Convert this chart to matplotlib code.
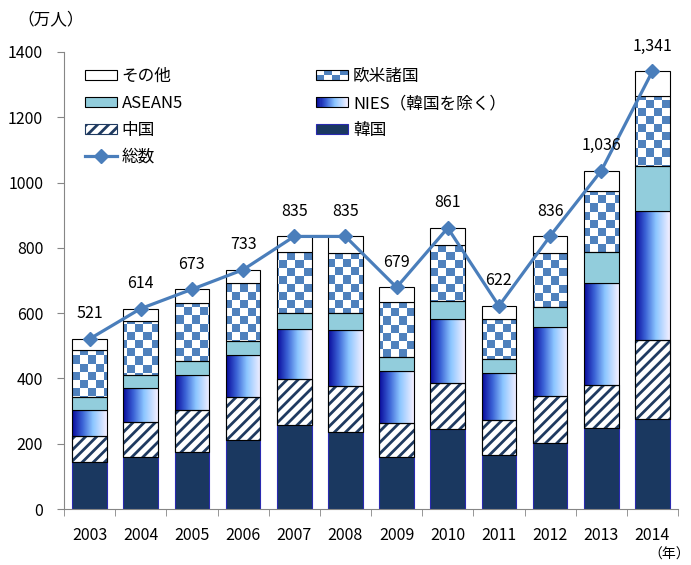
import numpy as np
import matplotlib
matplotlib.use("Agg")
import matplotlib.pyplot as plt
from matplotlib.patches import Patch, Rectangle
from matplotlib.lines import Line2D
from matplotlib.colors import LinearSegmentedColormap, ListedColormap
from matplotlib.legend_handler import HandlerBase

plt.rcParams['font.family'] = ['Noto Sans CJK JP', 'DejaVu Sans']
plt.rcParams['hatch.linewidth'] = 2.0

# data (万人)
years = ['2003', '2004', '2005', '2006', '2007', '2008',
         '2009', '2010', '2011', '2012', '2013', '2014']
korea = [145, 159, 175, 212, 258, 237, 158, 244, 165, 203, 247, 276]
china = [80, 108, 127, 131, 140, 141, 104, 141, 108, 144, 133, 242]
nies = [78, 103, 108, 128, 152, 170, 160, 196, 145, 210, 311, 396]
asean5 = [39, 40, 42, 43, 49, 51, 45, 55, 41, 63, 96, 138]
western = [144, 165, 178, 177, 189, 184, 166, 174, 123, 163, 187, 212]
others = [35, 39, 43, 42, 47, 52, 46, 51, 40, 53, 62, 77]
total = [521, 614, 673, 733, 835, 835, 679, 861, 622, 836, 1036, 1341]

# colours
c_korea = '#1a3860'
c_china = '#1f3a60'
c_asean = '#92cddc'
c_check = '#4f81bd'
c_line = '#4a7ebb'
grad_cmap = LinearSegmentedColormap.from_list(
    'nies', [(0, '#08089a'), (0.3, '#3b63d6'), (0.6, '#8cc6ff'), (1, '#f5f0ff')])
check_cmap = ListedColormap(['white', c_check])


class GradientHandler(HandlerBase):
    def create_artists(self, legend, orig_handle, xdescent, ydescent,
                       width, height, fontsize, trans):
        n = 30
        arts = []
        for i in range(n):
            arts.append(Rectangle((-xdescent + i * width / n, -ydescent), width / n, height,
                                  facecolor=grad_cmap(i / (n - 1)), edgecolor='none',
                                  transform=trans))
        arts.append(Rectangle((-xdescent, -ydescent), width, height, fill=False,
                              edgecolor='black', lw=0.8, transform=trans))
        return arts


class CheckerHandler(HandlerBase):
    def create_artists(self, legend, orig_handle, xdescent, ydescent,
                       width, height, fontsize, trans):
        ncol, nrow = 4, 2
        arts = []
        for r in range(nrow):
            for c in range(ncol):
                col = c_check if (r + c) % 2 == 0 else 'white'
                arts.append(Rectangle((-xdescent + c * width / ncol, -ydescent + r * height / nrow),
                                      width / ncol, height / nrow, facecolor=col,
                                      edgecolor='none', transform=trans))
        arts.append(Rectangle((-xdescent, -ydescent), width, height, fill=False,
                              edgecolor='black', lw=0.8, transform=trans))
        return arts


fig = plt.figure(figsize=(6.91, 5.65), dpi=100)
ax = fig.add_axes([64 / 691, 1 - 509 / 565, 614 / 691, 457 / 565])

x = np.arange(len(years))
w = 0.68
korea = np.array(korea)
china = np.array(china)
nies = np.array(nies)
asean5 = np.array(asean5)
western = np.array(western)
others = np.array(others)

b0 = np.zeros(len(x))
ax.bar(x, korea, w, bottom=b0, color=c_korea, edgecolor='#2a2ab0', lw=0.8, zorder=2)
b1 = b0 + korea
ax.bar(x, china, w, bottom=b1, facecolor='white', edgecolor=c_china, hatch='///', lw=0.8, zorder=2)
ax.bar(x, china, w, bottom=b1, fill=False, edgecolor='black', lw=0.8, zorder=3)
b2 = b1 + china
nies_bars = ax.bar(x, nies, w, bottom=b2, facecolor='none', edgecolor='black', lw=0.8, zorder=3)
b3 = b2 + nies
ax.bar(x, asean5, w, bottom=b3, color=c_asean, edgecolor='black', lw=0.8, zorder=3)
b4 = b3 + asean5
west_bars = ax.bar(x, western, w, bottom=b4, facecolor='none', edgecolor='black', lw=0.8, zorder=3)
b5 = b4 + western
ax.bar(x, others, w, bottom=b5, color='white', edgecolor='black', lw=0.8, zorder=3)

# gradient fill for NIES
grad = np.linspace(0, 1, 256).reshape(1, -1)
for p in nies_bars:
    x0, y0 = p.get_x(), p.get_y()
    im = ax.imshow(grad, cmap=grad_cmap, extent=[x0, x0 + p.get_width(), y0, y0 + p.get_height()],
                   aspect='auto', interpolation='bilinear', zorder=2)
    im.set_clip_path(p)

# checker fill for western countries
nx, ny = 77, 57
checker = (np.add.outer(np.arange(ny), np.arange(nx)) % 2).astype(float)
for p in west_bars:
    im = ax.imshow(checker, cmap=check_cmap, extent=[-0.5, 11.5, 0, 1400], origin='lower',
                   aspect='auto', interpolation='nearest', zorder=2)
    im.set_clip_path(p)

ax.plot(x, total, color=c_line, lw=2.3, marker='D', markersize=7, zorder=5)
for xi, t in zip(x, total):
    ax.annotate(f'{t:,}', (xi, t), xytext=(0, 18), textcoords='offset points',
                ha='center', va='center', fontsize=11.5, zorder=6, annotation_clip=False)

ax.set_xlim(-0.5, 11.5)
ax.set_ylim(0, 1400)
ax.set_yticks(range(0, 1401, 200))
ax.set_xticks(x)
ax.set_xticklabels(years)
ax.set_xticks(np.arange(-0.5, 12, 1), minor=True)
ax.tick_params(axis='x', which='major', length=0, pad=13, labelsize=11.5)
ax.tick_params(axis='x', which='minor', length=5, color='#868686')
ax.tick_params(axis='y', length=5, color='#868686', pad=10, labelsize=11.5)
for s in ['top', 'right']:
    ax.spines[s].set_visible(False)
for s in ['left', 'bottom']:
    ax.spines[s].set_color('#868686')
    ax.spines[s].set_linewidth(0.8)

handles = [
    Patch(facecolor='white', edgecolor='black', lw=0.8),
    Patch(facecolor=c_asean, edgecolor='black', lw=0.8),
    Patch(facecolor='white', edgecolor=c_china, hatch='///', lw=0.8),
    Line2D([], [], color=c_line, lw=2.3, marker='D', markersize=7),
    Patch(),
    Patch(),
    Patch(facecolor=c_korea, edgecolor='#2a2ab0', lw=0.8),
]
labels = ['その他', 'ASEAN5', '中国', '総数', '欧米諸国', 'NIES（韓国を除く）', '韓国']
handler_map = {handles[4]: CheckerHandler(), handles[5]: GradientHandler()}
ax.legend(handles, labels, handler_map=handler_map, ncol=2, frameon=False,
          loc='upper left', bbox_to_anchor=(85 / 691, 1 - 68 / 565),
          bbox_transform=fig.transFigure, borderpad=0, borderaxespad=0,
          fontsize=12, handlelength=1.9, handleheight=0.6, handletextpad=0.3,
          labelspacing=0.6, columnspacing=8.0)

fig.text(17 / 691, 1 - 20 / 565, '（万人）', ha='left', va='center', fontsize=12)
fig.text(690 / 691, 1 - 555 / 565, '（年）', ha='right', va='center', fontsize=10)

fig.savefig('out.png', dpi=100)
